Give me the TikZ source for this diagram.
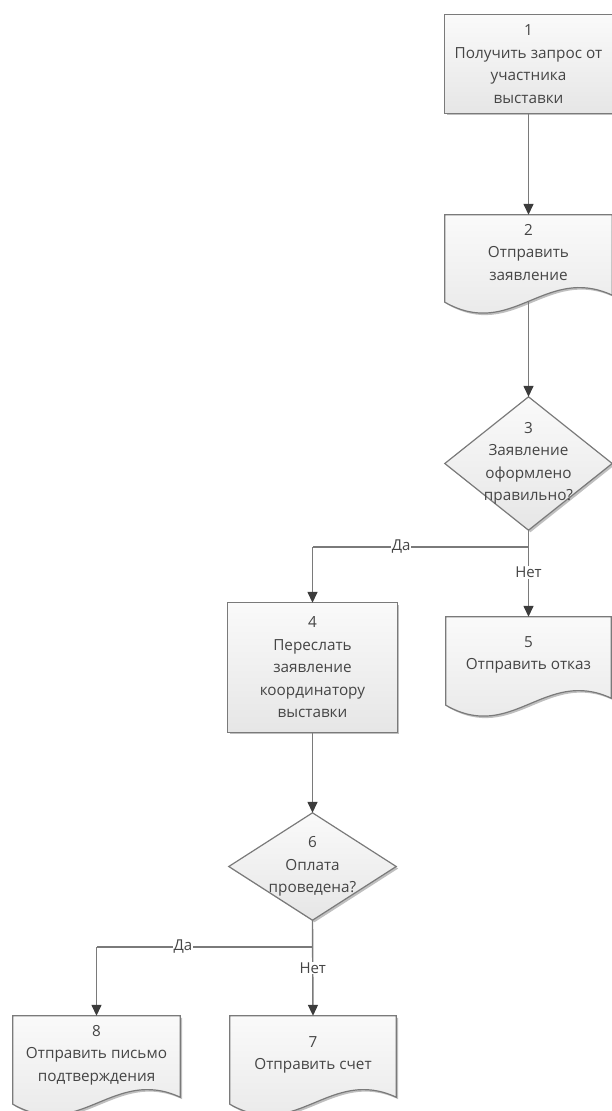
\documentclass[tikz,border=0pt]{standalone}
\usepackage{fontspec}
\setmainfont{Open Sans}
\usetikzlibrary{arrows.meta,calc,shadows}
\definecolor{linegray}{HTML}{7A7A7A}
\definecolor{arrowgray}{HTML}{3C3C3C}
\definecolor{textgray}{HTML}{454545}
\definecolor{filltop}{HTML}{FAFAFA}
\definecolor{fillbot}{HTML}{E6E6E6}
\tikzset{
  shapestyle/.style={draw=linegray, line width=1.2pt, top color=filltop, bottom color=fillbot,
    drop shadow={shadow xshift=2pt, shadow yshift=-2pt, opacity=0.25, fill=black}},
  holder/.style={draw=none, inner sep=0pt, minimum width=#1},
  txt/.style={text=textgray, align=center, font=\fontsize{15.3}{22.5}\selectfont},
  conn/.style={draw=linegray, line width=1.4pt, -{Triangle[length=11pt,width=10pt,color=arrowgray]}},
  plain/.style={draw=linegray, line width=1.4pt},
  lbl/.style={fill=white, inner sep=1pt, text=textgray, font=\fontsize{15}{18}\selectfont}
}
\newcommand\docshape[1]{%
  \path[shapestyle] (#1.north west) -- (#1.north east) -- ($(#1.south east)+(0,-7)$)
    .. controls ($(#1.south west)!0.6!(#1.south east)+(0,-38)$) and ($(#1.south west)!0.4!(#1.south east)+(0,38)$)
    .. (#1.south west) -- cycle;}
\newcommand\rectshape[1]{%
  \path[shapestyle] (#1.north west) rectangle (#1.south east);}
\newcommand\diashape[1]{%
  \path[shapestyle] (#1.north) -- (#1.east) -- (#1.south) -- (#1.west) -- cycle;}
\begin{document}
\begin{tikzpicture}[x=1pt,y=-1pt]
\useasboundingbox (0,0) rectangle (612,1111);
% holders
\node[holder=167pt, minimum height=98pt] (b1) at (528.5,64) {};
\node[holder=167pt, minimum height=87pt] (b2) at (528.5,258.5) {};
\node[holder=167pt, minimum height=133pt] (d3) at (528.5,463.5) {};
\node[holder=169pt, minimum height=129pt] (b4) at (312.5,667.5) {};
\node[holder=165pt, minimum height=88pt] (b5) at (528.5,661) {};
\node[holder=167pt, minimum height=107pt] (d6) at (312.5,866.5) {};
\node[holder=166pt, minimum height=88pt] (b7) at (313,1060) {};
\node[holder=167pt, minimum height=88pt] (b8) at (96.5,1060) {};
% shapes
\rectshape{b1}
\docshape{b2}
\diashape{d3}
\rectshape{b4}
\docshape{b5}
\diashape{d6}
\docshape{b7}
\docshape{b8}
% texts
\node[txt] (t1) at (b1.center) {1\\Получить запрос от\\участника\\выставки};
\node[txt] (t2) at ($(b2.center)+(0,-6)$) {2\\Отправить\\заявление};
\node[txt] (t3) at (d3.center) {3\\Заявление\\оформлено\\правильно?};
\node[txt] (t4) at (b4.center) {4\\Переслать\\заявление\\координатору\\выставки};
\node[txt] (t5) at ($(b5.center)+(0,-6)$) {5\\Отправить отказ};
\node[txt] (t6) at (d6.center) {6\\Оплата\\проведена?};
\node[txt] (t7) at ($(b7.center)+(0,-5)$) {7\\Отправить счет};
\node[txt] (t8) at ($(b8.center)+(0,-5)$) {8\\Отправить письмо\\подтверждения};
% junctions
\coordinate (j3) at (528.5,547);
\coordinate (j6) at (312.5,947);
% connectors
\draw[conn] (b1.south) -- (b2.north);
\draw[conn] (b2.south) -- (d3.north);
\draw[conn] (d3.south) -- node[lbl, pos=0.49] {Нет} (b5.north);
\draw[plain] (j3) -- node[lbl, pos=0.59] {Да} (j3 -| b4.north);
\draw[conn] (j3 -| b4.north) -- (b4.north);
\draw[conn] (b4.south) -- (d6.north);
\draw[conn] (d6.south) -- node[lbl, pos=0.5] {Нет} (b7.north);
\draw[plain] (j6) -- node[lbl, pos=0.6] {Да} (j6 -| b8.north);
\draw[conn] (j6 -| b8.north) -- (b8.north);
\end{tikzpicture}
\end{document}
